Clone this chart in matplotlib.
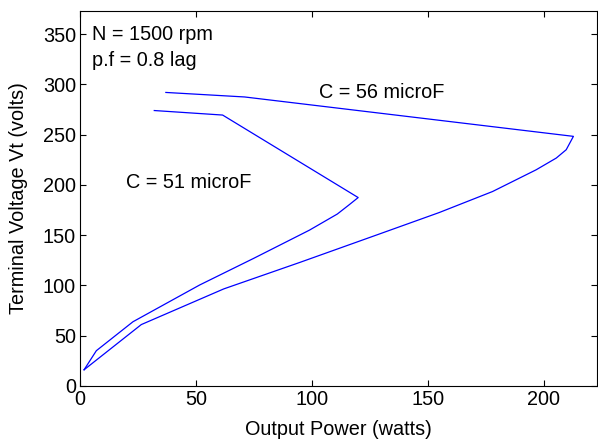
import numpy as np
from matplotlib import pyplot as plt

plt.rcParams["font.family"] = ["Liberation Sans", "DejaVu Sans"]

# C = 56 microF: output power (W) and terminal voltage (V)
p_56 = [37, 71, 212.9, 209.8, 205.5, 196.8, 178, 155, 129, 95, 62, 26.4, 1.7]
v_56 = [292, 287.5, 248.3, 235, 226.7, 215, 193.4, 172.5, 151, 123, 96.5, 61, 16]

# C = 51 microF
p_51 = [32, 61.5, 120, 116, 111, 99, 75, 51.6, 22.8, 7, 1.7]
v_51 = [274, 269.5, 187.4, 180, 171, 155, 127, 100.4, 63.8, 35, 16]

FS = 14.3

fig = plt.figure(figsize=(5.98, 4.42), dpi=100)
ax = fig.add_axes([0.134, 0.127, 0.864, 0.848])

ax.plot(p_56, v_56, color="#0000ff", linewidth=0.9)
ax.plot(p_51, v_51, color="#0000ff", linewidth=0.9)

ax.text(5, 350, "N = 1500 rpm", fontsize=FS, va="center")
ax.text(5, 324, "p.f = 0.8 lag", fontsize=FS, va="center")
ax.text(103, 292, "C = 56 microF", fontsize=FS, va="center")
ax.text(20, 202, "C = 51 microF", fontsize=FS, va="center")

ax.set_xlim(0, 223)
ax.set_ylim(0, 373)
ax.set_xticks(np.arange(0, 201, 50))
ax.set_yticks(np.arange(0, 351, 50))
ax.tick_params(direction="in", top=True, right=True, length=4, labelsize=FS, pad=3)
ax.set_xlabel("Output Power (watts)", fontsize=FS, labelpad=8)
ax.set_ylabel("Terminal Voltage Vt (volts)", fontsize=FS, labelpad=11)

fig.savefig("out.png", dpi=100)
plt.close(fig)
